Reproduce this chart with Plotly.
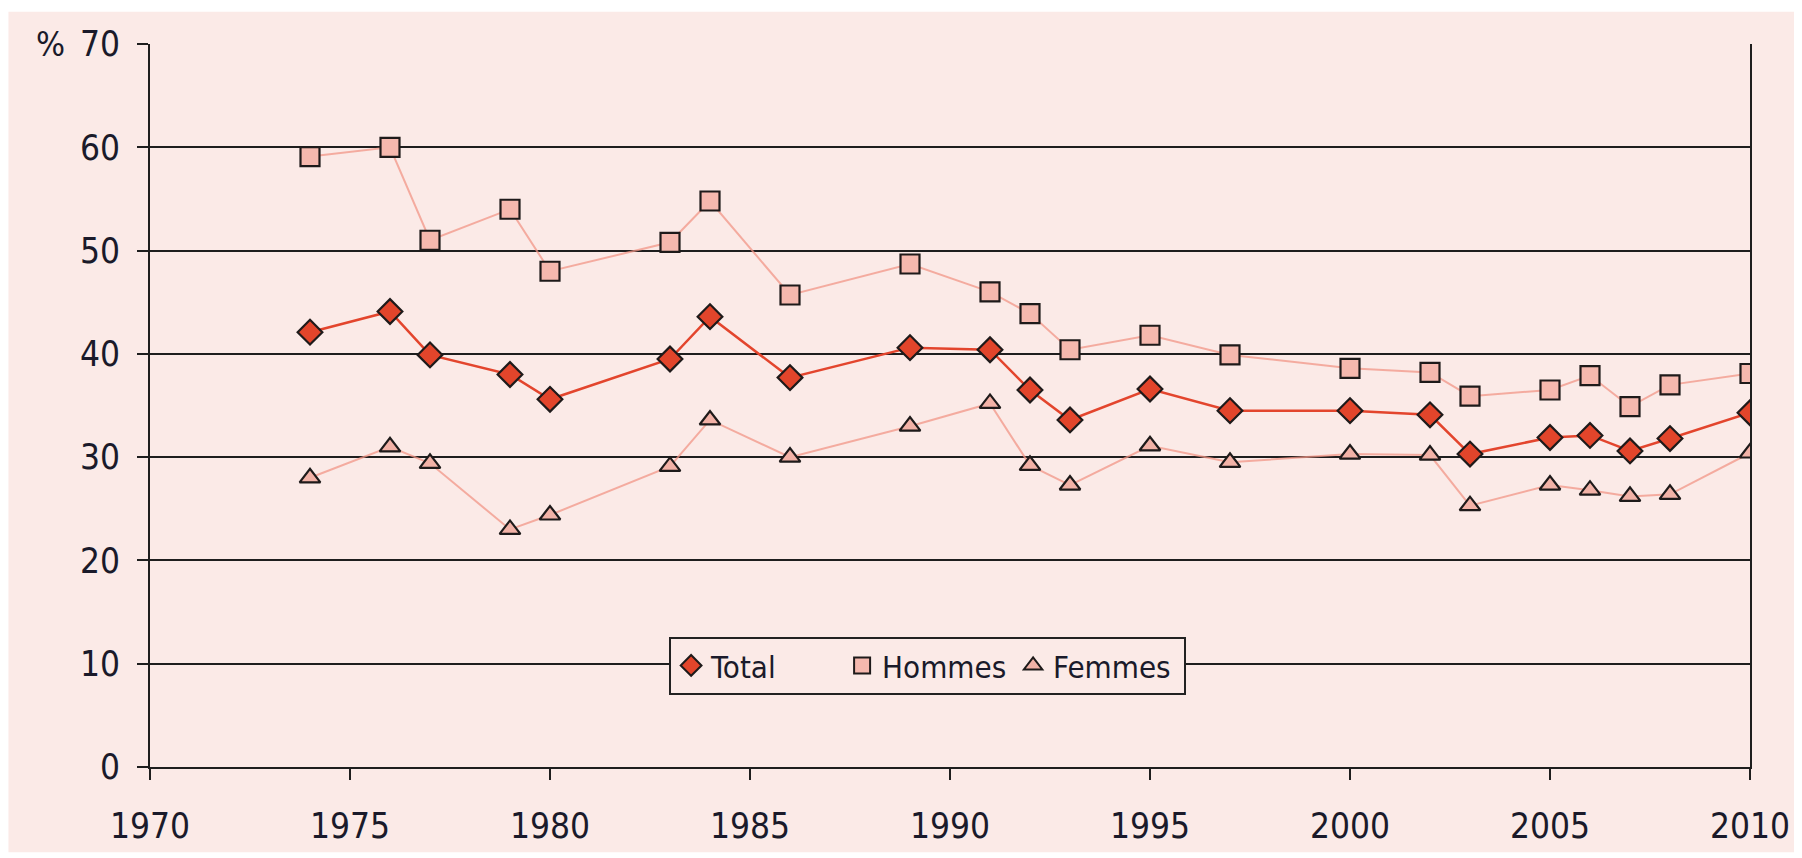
import plotly.graph_objects as go

years = [1974, 1976, 1977, 1979, 1980, 1983, 1984, 1986, 1989, 1991, 1992,
         1993, 1995, 1997, 2000, 2002, 2003, 2005, 2006, 2007, 2008, 2010]
total = [42.1, 44.1, 39.9, 38.0, 35.6, 39.5, 43.6, 37.7, 40.6, 40.4, 36.5,
         33.6, 36.6, 34.5, 34.5, 34.1, 30.3, 31.9, 32.1, 30.6, 31.8, 34.3]
hommes = [59.1, 60.0, 51.0, 54.0, 48.0, 50.8, 54.8, 45.7, 48.7, 46.0, 43.9,
          40.4, 41.8, 39.9, 38.6, 38.2, 35.9, 36.5, 37.9, 34.9, 37.0, 38.1]
femmes = [28.0, 31.0, 29.4, 23.0, 24.4, 29.1, 33.6, 30.0, 33.0, 35.2, 29.2,
          27.3, 31.1, 29.5, 30.3, 30.2, 25.3, 27.3, 26.8, 26.2, 26.4, 30.4]

x_ticks = [1970, 1975, 1980, 1985, 1990, 1995, 2000, 2005, 2010]
y_ticks = [0, 10, 20, 30, 40, 50, 60, 70]

FONT = "Liberation Sans Narrow, DejaVu Sans Condensed, Arial Narrow, sans-serif"
PINK = "#FBEAE7"
OUTLINE = "#1e1a1a"
TEXT = "#1a1a2a"

series = [
    # name, values, symbol, size, fill, line colour, line width, rank
    ("Hommes", hommes, "square", 19, "#F5B8AE", "rgba(242,150,135,0.75)", 2, 2),
    ("Femmes", femmes, "triangle-up", 18, "#F2B2A7", "rgba(242,150,135,0.75)", 2, 3),
    ("Total", total, "diamond", 19, "#E2452B", "#E3452D", 2.5, 1),
]

fig = go.Figure()
for name, vals, sym, size, fill, lc, lw, rank in series:
    fig.add_trace(go.Scatter(
        x=years, y=vals, name=name, mode="lines+markers", showlegend=False,
        line=dict(color=lc, width=lw),
        marker=dict(symbol=sym, size=size, color=fill,
                    line=dict(color=OUTLINE, width=2.2)),
    ))
# legend entries (markers only, as in the original)
for name, vals, sym, size, fill, lc, lw, rank in series:
    fig.add_trace(go.Scatter(
        x=[None], y=[None], name=name, mode="markers", showlegend=True,
        legendrank=rank,
        marker=dict(symbol=sym, size=16, color=fill,
                    line=dict(color=OUTLINE, width=2)),
    ))

# The page body has an 8px margin, so the figure is offset by 8px.
OFF = 8
W, H = 1802 - OFF, 858 - OFF
L, R, T, B = 150 - OFF, 47, 43.5 - OFF, 86
pw = W - L - R
ph = H - T - B

fig.add_shape(type="rect", xref="paper", yref="paper",
              x0=-L / pw, x1=(W - L) / pw,
              y0=-B / ph, y1=(H - B - 3) / ph,
              fillcolor=PINK, line=dict(width=0), layer="below")

fig.add_annotation(text="%", xref="paper", yref="y", x=(50 - OFF - L) / pw, y=70,
                   showarrow=False, font=dict(family=FONT, size=34, color=TEXT),
                   xanchor="center", yanchor="middle")

fig.update_layout(
    width=W, height=H,
    margin=dict(l=L, r=R, t=T, b=B),
    paper_bgcolor="white",
    plot_bgcolor="rgba(0,0,0,0)",
    font=dict(family=FONT, size=35, color=TEXT),
    showlegend=True,
    legend=dict(
        orientation="h", x=0.486, y=0.14, xanchor="center", yanchor="middle",
        bgcolor=PINK, bordercolor="#222", borderwidth=2,
        font=dict(family=FONT, size=31, color=TEXT),
        entrywidth=126, entrywidthmode="pixels",
        traceorder="normal",
    ),
    xaxis=dict(
        range=[1970, 2010], tickvals=x_ticks, ticktext=[str(v) for v in x_ticks],
        showgrid=False, zeroline=False,
        showline=True, linecolor="#1e1e1e", linewidth=2,
        ticks="outside", ticklen=11, tickwidth=2, tickcolor="#1e1e1e",
        ticklabelstandoff=16,
    ),
    yaxis=dict(
        range=[0, 70], tickvals=y_ticks, ticktext=[str(v) for v in y_ticks],
        showgrid=True, gridcolor="#1e1e1e", gridwidth=2, zeroline=False,
        showline=True, linecolor="#1e1e1e", linewidth=2, mirror=True,
        ticks="outside", ticklen=11, tickwidth=2, tickcolor="#1e1e1e",
        ticklabelstandoff=10,
    ),
)

fig.write_html("out.html")
